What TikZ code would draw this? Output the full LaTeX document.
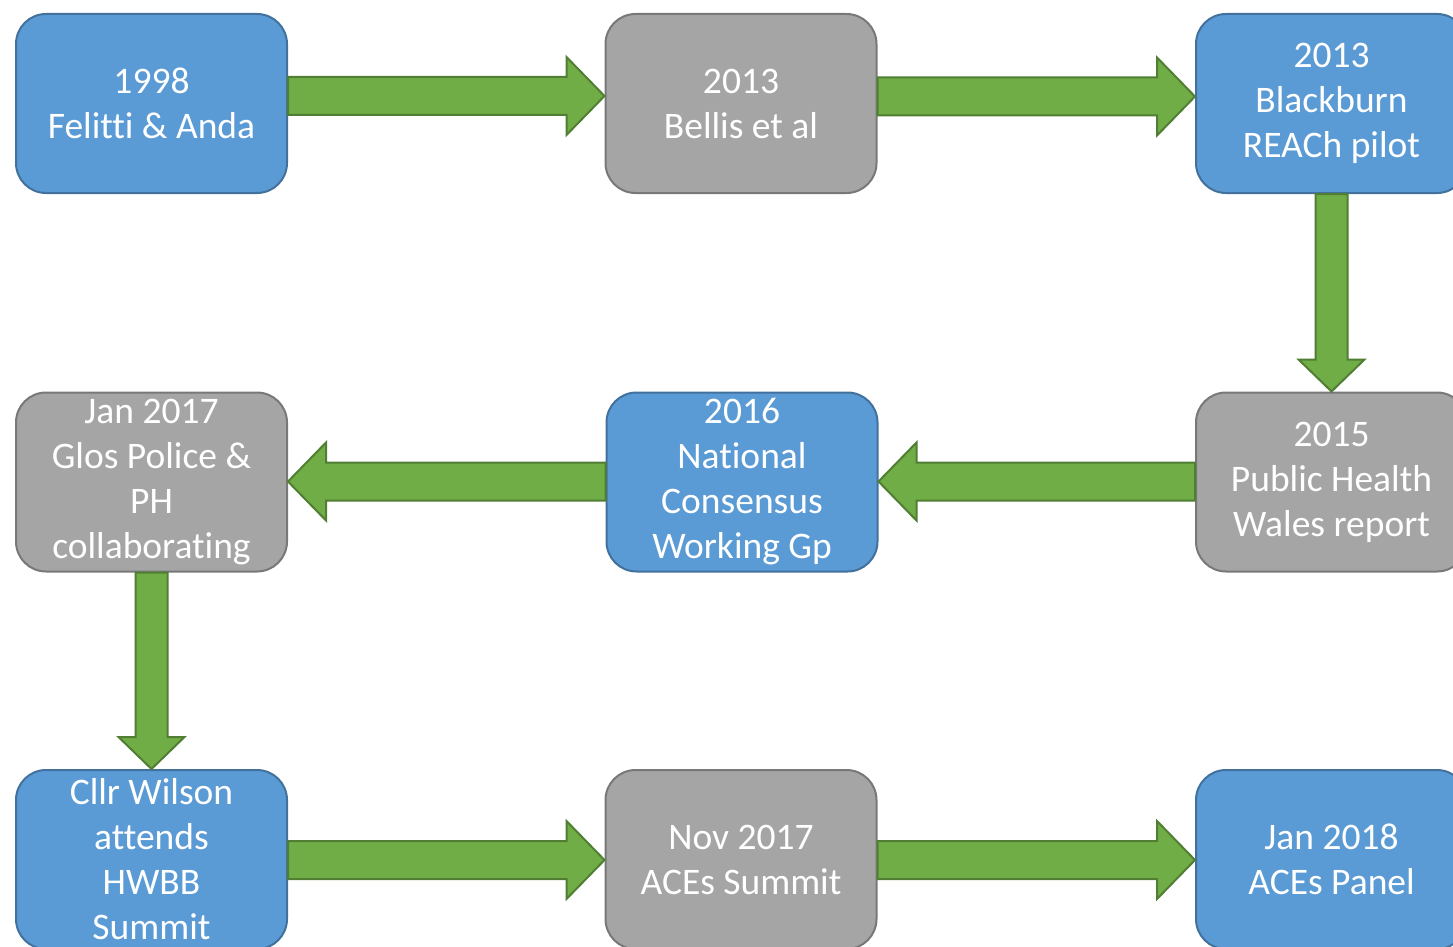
\documentclass[tikz,border=0pt]{standalone}
\usepackage{fontspec}
\setmainfont{Carlito}[Ligatures={NoCommon}]
\usetikzlibrary{calc}
\definecolor{bfill}{HTML}{5B9BD5}
\definecolor{bline}{HTML}{41719C}
\definecolor{gfill}{HTML}{A5A5A5}
\definecolor{gline}{HTML}{787878}
\definecolor{afill}{HTML}{70AD47}
\definecolor{aline}{HTML}{507E32}
\tikzset{
  box/.style={rectangle, rounded corners=30pt, minimum width=271pt, minimum height=179pt,
    line width=2pt, text=white, align=center, inner sep=0pt,
    font=\fontsize{37.5}{45}\selectfont,
    execute at begin node={\rule{0pt}{37pt}}},
  bluebox/.style={box, fill=bfill, draw=bline},
  graybox/.style={box, fill=gfill, draw=gline},
  fat/.style={fill=afill, draw=aline, line width=2pt, line join=miter}
}
% right-pointing block arrow: from node #1 (east) to node #2 (west), vertical offset #3
\newcommand\rarrow[3]{%
  \draw[fat] let \p1=(#1.east), \p2=(#2.west) in
   (\x1,\y1+#3+19pt) -- (\x2-38pt,\y1+#3+19pt) -- (\x2-38pt,\y1+#3+39pt) -- (\x2,\y1+#3)
   -- (\x2-38pt,\y1+#3-39pt) -- (\x2-38pt,\y1+#3-19pt) -- (\x1,\y1+#3-19pt) -- cycle;}
% left-pointing block arrow: from node #1 (west) to node #2 (east)
\newcommand\larrow[3]{%
  \draw[fat] let \p1=(#1.west), \p2=(#2.east) in
   (\x1,\y1+#3+19pt) -- (\x2+38pt,\y1+#3+19pt) -- (\x2+38pt,\y1+#3+39pt) -- (\x2,\y1+#3)
   -- (\x2+38pt,\y1+#3-39pt) -- (\x2+38pt,\y1+#3-19pt) -- (\x1,\y1+#3-19pt) -- cycle;}
% down-pointing block arrow: from node #1 (south) to node #2 (north)
\newcommand\darrow[2]{%
  \draw[fat] let \p1=(#1.south), \p2=(#2.north) in
   (\x1-16pt,\y1) -- (\x1-16pt,\y2+32pt) -- (\x1-33pt,\y2+32pt) -- (\x1,\y2)
   -- (\x1+33pt,\y2+32pt) -- (\x1+16pt,\y2+32pt) -- (\x1+16pt,\y1) -- cycle;}
\begin{document}
\begin{tikzpicture}[x=1pt,y=-1pt]
\useasboundingbox (0,0) rectangle (1453,947);
\node[bluebox] (n1) at (151.5,103.5) {1998\\Felitti \& Anda};
\node[graybox] (n2) at (741,103.5) {2013\\Bellis et al};
\node[bluebox] (n3) at (1331.5,103.5) {2013\\Blackburn\\REACh pilot};
\node[graybox] (n4) at (151.5,482) {Jan 2017\\Glos Police \&\\PH\\collaborating};
\node[bluebox] (n5) at (742,482) {2016\\National\\Consensus\\Working Gp};
\node[graybox] (n6) at (1331.5,482) {2015\\Public Health\\Wales report};
\node[bluebox] (n7) at (151.5,859.5) {Cllr Wilson\\attends\\HWBB\\Summit};
\node[graybox] (n8) at (741,859.5) {Nov 2017\\ACEs Summit};
\node[bluebox] (n9) at (1331.5,859.5) {Jan 2018\\ACEs Panel};
\rarrow{n1}{n2}{7.5pt}
\rarrow{n2}{n3}{7pt}
\darrow{n3}{n6}
\larrow{n6}{n5}{0.5pt}
\larrow{n5}{n4}{0.5pt}
\darrow{n4}{n7}
\rarrow{n7}{n8}{-0.5pt}
\rarrow{n8}{n9}{-0.5pt}
\end{tikzpicture}
\end{document}
